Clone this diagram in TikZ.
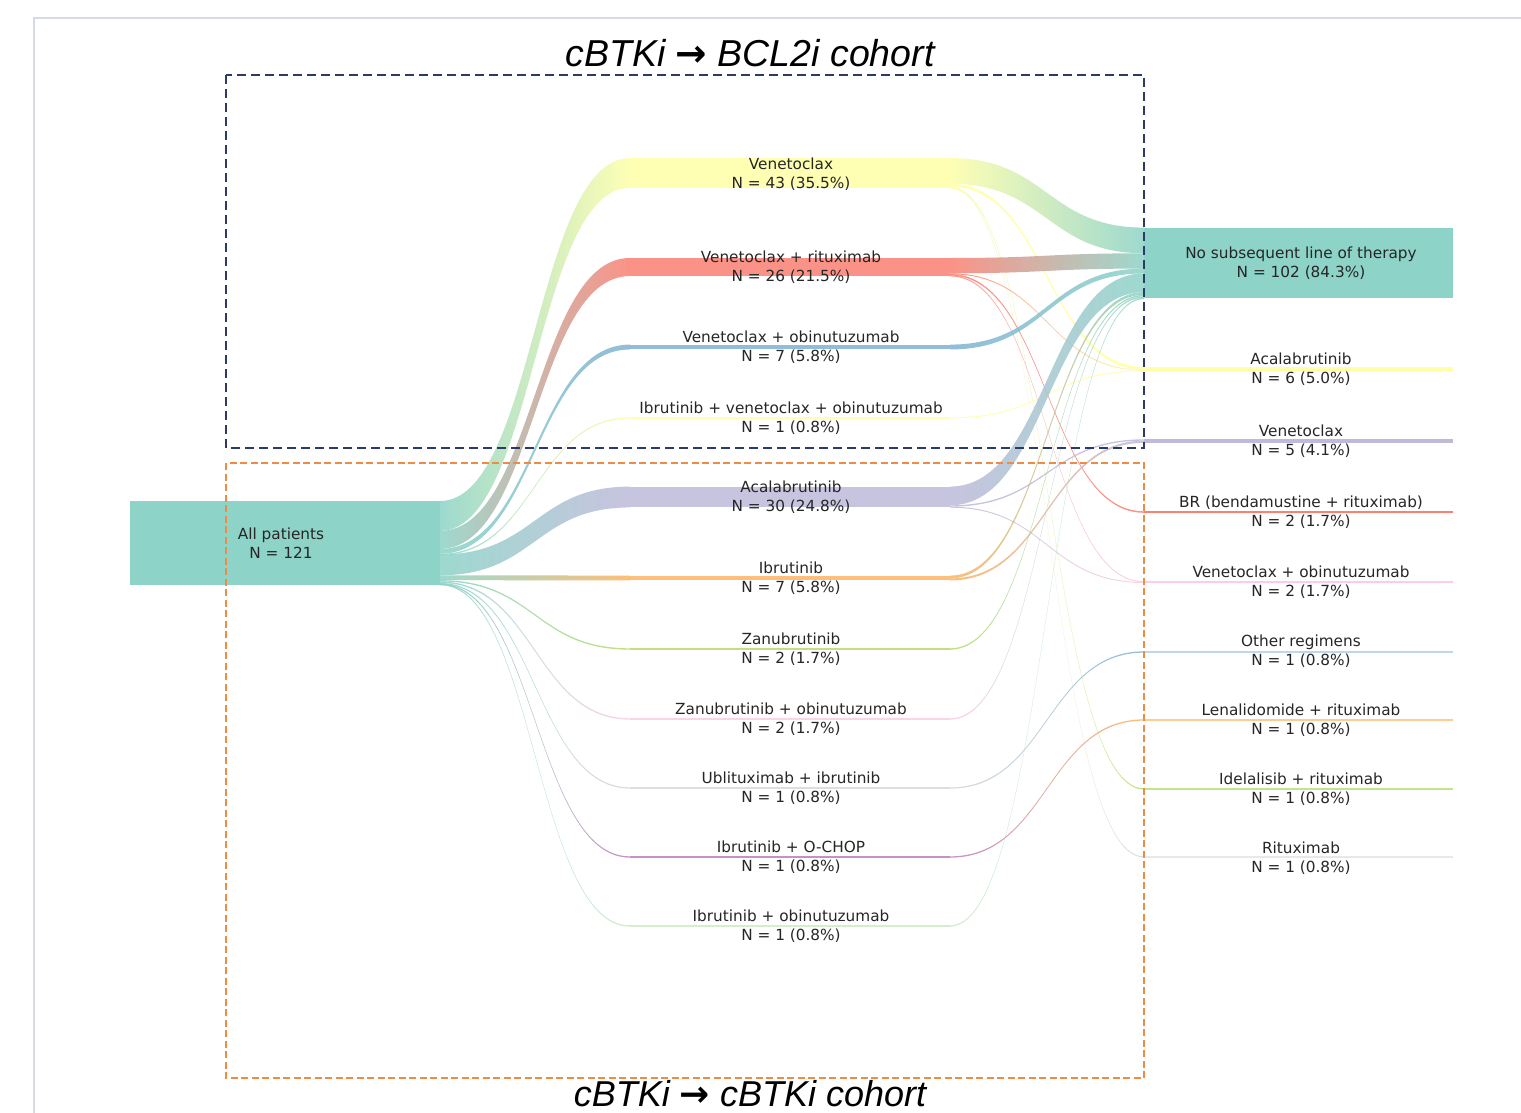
\documentclass[tikz,border=0pt]{standalone}
\usepackage{fontspec}
\setmainfont{DejaVu Sans}
\newfontfamily\titlefont{Liberation Sans}
\newfontfamily\arrowfont{DejaVu Sans}
\definecolor{cteal}{HTML}{8DD3C7}
\definecolor{cyellow}{HTML}{FFFFA8}
\definecolor{clav}{HTML}{BEBADA}
\definecolor{csalmon}{HTML}{FB8072}
\definecolor{cblue}{HTML}{80B1D3}
\definecolor{corange}{HTML}{FDB462}
\definecolor{cgreen}{HTML}{B3DE69}
\definecolor{cpink}{HTML}{FCCDE5}
\definecolor{cgray}{HTML}{D9D9D9}
\definecolor{cpurple}{HTML}{BC80BD}
\definecolor{clgreen}{HTML}{CCEBC5}
\definecolor{cframe}{HTML}{D6DAE6}
\definecolor{cnavy}{HTML}{2B3A66}
\definecolor{cdashor}{HTML}{EE8C45}
\definecolor{clabel}{HTML}{262626}
\newcommand\sankeyflow[7]{%
  \shade[left color=#6, right color=#7, opacity=0.85]
    (#1,#2) .. controls ({(#1+#3)/2},#2) and ({(#1+#3)/2},#4) .. (#3,#4)
    -- (#3,{#4+#5}) .. controls ({(#1+#3)/2},{#4+#5}) and ({(#1+#3)/2},{#2+#5}) .. (#1,{#2+#5}) -- cycle;}
\begin{document}
\begin{tikzpicture}[x=1pt,y=-1pt,
  lbl/.style={font=\fontsize{15.3}{18.5}\selectfont, text=clabel, align=center, inner sep=0pt},
  bar/.style={inner sep=0pt, outer sep=0pt, draw=none, rectangle},
  midbar/.style={bar, minimum width=320pt, fill opacity=0.85},
  rbar/.style={bar, minimum width=309pt},
  cohort/.style={font=\titlefont\itshape\fontsize{37.5}{40}\selectfont, text=black, inner sep=0pt, anchor=base}]
\useasboundingbox (0,0) rectangle (1521,1113);
\clip (0,0) rectangle (1521,1113);
\fill[white] (0,0) rectangle (1521,1113);
\draw[cframe, line width=2pt] (34,18) rectangle (1560,1150);

% left flows
\sankeyflow{440}{501.0}{630}{158.1}{29.85}{cteal}{cyellow}
\sankeyflow{440}{530.85}{630}{258.0}{18.05}{cteal}{csalmon}
\sankeyflow{440}{548.9}{630}{344.6}{4.86}{cteal}{cblue}
\sankeyflow{440}{553.76}{630}{417.35}{1.3}{cteal}{cyellow}
\sankeyflow{440}{554.45}{630}{486.6}{20.83}{cteal}{clav}
\sankeyflow{440}{575.28}{630}{575.6}{4.86}{cteal}{corange}
\sankeyflow{440}{580.14}{630}{648.3}{1.39}{cteal}{cgreen}
\sankeyflow{440}{581.53}{630}{718.3}{1.39}{cteal}{cpink}
\sankeyflow{440}{582.92}{630}{787.35}{1.3}{cteal}{cgray}
\sankeyflow{440}{583.61}{630}{856.35}{1.3}{cteal}{cpurple}
\sankeyflow{440}{584.0}{630}{925.35}{1.3}{cteal}{clgreen}

% right flows
\sankeyflow{950}{158.1}{1144}{227.6}{25.68}{cyellow}{cteal}
\sankeyflow{950}{183.8}{1144}{366.9}{2.78}{cyellow}{cyellow}
\sankeyflow{950}{186.6}{1144}{788.35}{1.2}{cyellow}{cgreen}
\sankeyflow{950}{187.3}{1144}{856.35}{1.2}{cyellow}{cgray}
\sankeyflow{950}{258.0}{1144}{253.3}{15.27}{csalmon}{cteal}
\sankeyflow{950}{273.3}{1144}{369.7}{1.0}{csalmon}{cyellow}
\sankeyflow{950}{274.0}{1144}{511.3}{1.5}{csalmon}{csalmon}
\sankeyflow{950}{275.4}{1144}{581.3}{1.0}{csalmon}{cpink}
\sankeyflow{950}{344.6}{1144}{268.6}{4.86}{cblue}{cteal}
\sankeyflow{950}{417.35}{1144}{370.4}{1.0}{cyellow}{cyellow}
\sankeyflow{950}{486.6}{1144}{273.4}{18.74}{clav}{cteal}
\sankeyflow{950}{505.3}{1144}{439.3}{1.39}{clav}{clav}
\sankeyflow{950}{506.7}{1144}{582.0}{1.0}{clav}{cpink}
\sankeyflow{950}{575.6}{1144}{292.1}{2.78}{corange}{cteal}
\sankeyflow{950}{578.4}{1144}{440.7}{2.08}{corange}{clav}
\sankeyflow{950}{648.3}{1144}{294.9}{1.39}{cgreen}{cteal}
\sankeyflow{950}{718.3}{1144}{296.3}{1.39}{cpink}{cteal}
\sankeyflow{950}{787.35}{1144}{651.35}{1.3}{cgray}{cblue}
\sankeyflow{950}{856.35}{1144}{719.35}{1.3}{cpurple}{corange}
\sankeyflow{950}{925.35}{1144}{297.7}{1.3}{clgreen}{cteal}

% source node
\node[bar, fill=cteal, minimum width=310pt, minimum height=84pt] (src) at (285,543) {};

% middle bars
\node[midbar, fill=cyellow, minimum height=29.85pt] (mVen) at (790,173) {};
\node[midbar, fill=csalmon, minimum height=18.05pt] (mVR) at (790,267) {};
\node[midbar, fill=cblue, minimum height=4.86pt] (mVO) at (790,347) {};
\node[midbar, fill=cyellow, minimum height=1.3pt] (mIVO) at (790,418) {};
\node[midbar, fill=clav, minimum height=20.83pt] (mAca) at (790,497) {};
\node[midbar, fill=corange, minimum height=4.86pt] (mIbr) at (790,578) {};
\node[midbar, fill=cgreen, minimum height=1.39pt] (mZan) at (790,649) {};
\node[midbar, fill=cpink, minimum height=1.39pt] (mZO) at (790,719) {};
\node[midbar, fill=cgray, minimum height=1.3pt] (mUI) at (790,788) {};
\node[midbar, fill=cpurple, minimum height=1.3pt] (mIOC) at (790,857) {};
\node[midbar, fill=clgreen, minimum height=1.3pt] (mIO) at (790,926) {};

% right bars
\node[rbar, fill=cteal, minimum height=70.8pt] (rNo) at (1298.5,263) {};
\node[rbar, fill=cyellow, minimum height=4.16pt] (rAca) at (1298.5,369) {};
\node[rbar, fill=clav, minimum height=3.47pt] (rVen) at (1298.5,441) {};
\node[rbar, fill=csalmon, minimum height=1.5pt] (rBR) at (1298.5,512) {};
\node[rbar, fill=cpink, minimum height=1.5pt] (rVO) at (1298.5,582) {};
\node[rbar, fill=cblue!50, minimum height=1.3pt] (rOth) at (1298.5,652) {};
\node[rbar, fill=corange!70, minimum height=1.3pt] (rLen) at (1298.5,720) {};
\node[rbar, fill=cgreen!80, minimum height=1.3pt] (rIde) at (1298.5,789) {};
\node[rbar, fill=cgray!60, minimum height=1.3pt] (rRit) at (1298.5,857) {};

% labels
\node[lbl] (lSrc) at (281,543) {All patients\\N = 121};
\node[lbl] (lVen) at (791,174) {Venetoclax\\N = 43 (35.5\%)};
\node[lbl] (lVR) at (791,267) {Venetoclax + rituximab\\N = 26 (21.5\%)};
\node[lbl] (lVO) at (791,347) {Venetoclax + obinutuzumab\\N = 7 (5.8\%)};
\node[lbl] (lIVO) at (791,418) {Ibrutinib + venetoclax + obinutuzumab\\N = 1 (0.8\%)};
\node[lbl] (lAca) at (791,497) {Acalabrutinib\\N = 30 (24.8\%)};
\node[lbl] (lIbr) at (791,578) {Ibrutinib\\N = 7 (5.8\%)};
\node[lbl] (lZan) at (791,649) {Zanubrutinib\\N = 2 (1.7\%)};
\node[lbl] (lZO) at (791,719) {Zanubrutinib + obinutuzumab\\N = 2 (1.7\%)};
\node[lbl] (lUI) at (791,788) {Ublituximab + ibrutinib\\N = 1 (0.8\%)};
\node[lbl] (lIOC) at (791,857) {Ibrutinib + O-CHOP\\N = 1 (0.8\%)};
\node[lbl] (lIO) at (791,926) {Ibrutinib + obinutuzumab\\N = 1 (0.8\%)};

\node[lbl] (lrNo) at (1301,263) {No subsequent line of therapy\\N = 102 (84.3\%)};
\node[lbl] (lrAca) at (1301,369) {Acalabrutinib\\N = 6 (5.0\%)};
\node[lbl] (lrVen) at (1301,441) {Venetoclax\\N = 5 (4.1\%)};
\node[lbl] (lrBR) at (1301,512) {BR (bendamustine + rituximab)\\N = 2 (1.7\%)};
\node[lbl] (lrVO) at (1301,582) {Venetoclax + obinutuzumab\\N = 2 (1.7\%)};
\node[lbl] (lrOth) at (1301,651) {Other regimens\\N = 1 (0.8\%)};
\node[lbl] (lrLen) at (1301,720) {Lenalidomide + rituximab\\N = 1 (0.8\%)};
\node[lbl] (lrIde) at (1301,789) {Idelalisib + rituximab\\N = 1 (0.8\%)};
\node[lbl] (lrRit) at (1301,858) {Rituximab\\N = 1 (0.8\%)};

% cohort boxes
\draw[cnavy, line width=2pt, dash pattern=on 9pt off 5pt] (226,75) rectangle (1144,448);
\draw[cdashor, line width=1.6pt, dash pattern=on 7pt off 3.5pt] (226,463) rectangle (1144,1078);

\node[cohort] (tTop) at (750,67) {cBTKi {\arrowfont\bfseries →} BCL2i cohort};
\node[cohort, font=\titlefont\itshape\fontsize{36}{38}\selectfont] (tBot) at (750,1106) {cBTKi {\arrowfont\bfseries →} cBTKi cohort};
\end{tikzpicture}
\end{document}
